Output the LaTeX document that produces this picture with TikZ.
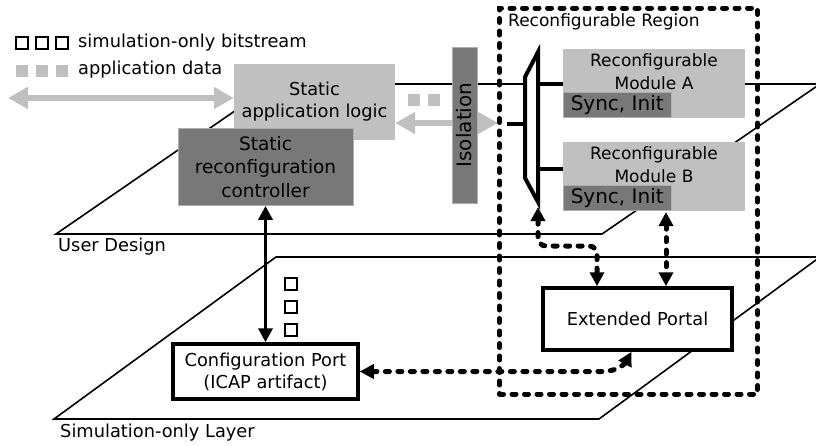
\documentclass[tikz,border=0pt]{standalone}
\usepackage{fontspec}
\setmainfont{DejaVu Sans}
\usetikzlibrary{arrows.meta}
\definecolor{appgray}{HTML}{C0C0C0}
\definecolor{ctlgray}{HTML}{787878}
\begin{document}
\begin{tikzpicture}[x=1pt,y=-1pt,
  font=\fontsize{17.8}{22}\selectfont,
  plane/.style={line width=1.6pt},
  lbl/.style={anchor=west, inner sep=0pt},
  graybox/.style={fill=appgray, inner sep=0pt, align=center},
  darkbox/.style={fill=ctlgray, draw=ctlgray!60!white, line width=0.8pt, inner sep=0pt, align=center},
  syncbox/.style={darkbox, minimum width=108pt, minimum height=25pt, font=\fontsize{20}{22}\selectfont},
  modbox/.style={graybox, minimum width=182pt, minimum height=69pt},
  modtxt/.style={align=center, font=\fontsize{17}{23}\selectfont},
  whitebox/.style={draw, fill=white, line width=3.5pt, inner sep=0pt, align=center},
  regbox/.style={draw, line width=5pt, line cap=round, dash pattern=on 4pt off 8.5pt, inner sep=0pt},
  muxline/.style={line width=4pt},
  grayarrow/.style={appgray, line width=6pt, {Triangle[width=21pt,length=20pt]}-{Triangle[width=21pt,length=20pt]}},
  ctlarrow/.style={line width=3.5pt, {Triangle[width=14pt,length=14pt]}-{Triangle[width=14pt,length=14pt]}},
  dasharrow/.style={line width=5pt, line cap=round, dash pattern=on 4pt off 8.5pt, {Triangle[width=14pt,length=14pt]}-{Triangle[width=14pt,length=14pt]}},
  bitsq/.style={draw, line width=2.2pt, minimum size=12pt, inner sep=0pt},
  datasq/.style={fill=appgray, minimum size=12pt, inner sep=0pt}]
\useasboundingbox (0,0) rectangle (816,445);

\draw[plane] (56,234) -- (602,234) -- (820,84) -- (274,84) -- cycle;
\draw[plane] (54,419) -- (599,419) -- (820,257) -- (276,257) -- cycle;
\node[lbl] (udlbl) at (58,247) {User Design};
\node[lbl] (sollbl) at (60,433) {Simulation-only Layer};

\foreach \i/\x in {1/22,2/42,3/62}{
  \node[bitsq] (bit\i) at (\x,43) {};
  \node[datasq] (dat\i) at (\x,71) {};
}
\node[lbl] (bitlbl) at (78,43) {simulation-only bitstream};
\node[lbl] (datlbl) at (78,70) {application data};

\node[graybox, minimum width=161pt, minimum height=76pt] (app) at (314.5,102) {Static\\application logic};
\node[darkbox, minimum width=175pt, minimum height=77pt, font=\fontsize{18.5}{23.5}\selectfont] (ctl) at (265.5,167) {Static\\reconfiguration\\controller};

\coordinate (ioL) at (8,98);
\coordinate (isoR) at (498,123);
\draw[grayarrow] (ioL) -- (app.west |- ioL);
\draw[grayarrow] (app.east |- isoR) -- (isoR);
\node[datasq] (dq1) at (414,100) {};
\node[datasq] (dq2) at (434,100) {};
\node[darkbox, rotate=90, minimum width=156pt, minimum height=25pt, font=\fontsize{20}{22}\selectfont] (iso) at (464.5,125) {Isolation};

\node[regbox, minimum width=258pt, minimum height=386pt] (rr) at (628.5,201) {};
\node[lbl, font=\fontsize{17}{22}\selectfont] (rrlbl) at (508,22) {Reconfigurable Region};

\node[modbox] (modA) at (654,83.5) {};
\node[modtxt] (modAtxt) at (654,72) {Reconfigurable\\Module A};
\node[syncbox, anchor=south west] (syncA) at (modA.south west) {Sync, Init};
\node[modbox] (modB) at (654,176.5) {};
\node[modtxt] (modBtxt) at (654,165) {Reconfigurable\\Module B};
\node[syncbox, anchor=south west] (syncB) at (modB.south west) {Sync, Init};

\coordinate (muxT) at (538,52);
\coordinate (muxB) at (538,202);
\coordinate (muxIn) at (507,124);
\coordinate (muxO) at (538,169);
\draw[muxline, fill=white] (muxT) -- (525,77) -- (525,178) -- (muxB) -- cycle;
\draw[muxline] (muxIn) -- (muxIn -| 525,0);
\draw[muxline] (muxT |- modA) -- (modA.west);
\draw[muxline] (muxO) -- (muxO -| modB.west);

\node[whitebox, minimum width=189pt, minimum height=62pt] (ext) at (637.5,319) {Extended Portal};
\node[whitebox, minimum width=185pt, minimum height=55pt] (cfg) at (265.5,371.5) {Configuration Port\\(ICAP artifact)};

\draw[ctlarrow] (ctl.south) -- (cfg.north);
\foreach \y [count=\i] in {284,307,330}
  \node[bitsq] (bs\i) at (291,\y) {};

\coordinate (muxTip) at (538,207);
\coordinate (turn) at (597,246);
\coordinate (bTap) at (666,212);
\draw[dasharrow, rounded corners=8pt] (muxTip) |- (turn) -- (turn |- ext.north);
\draw[dasharrow] (bTap) -- (bTap |- ext.north);
\draw[dasharrow] (cfg.east) -- (603,371.5) .. controls (618,371.5) and (626,362) .. ([xshift=-6pt]ext.south);
\end{tikzpicture}
\end{document}
